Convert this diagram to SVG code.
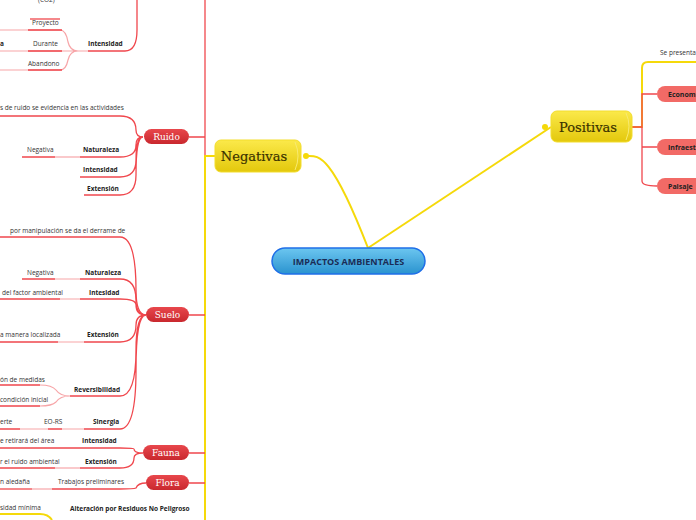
<svg xmlns="http://www.w3.org/2000/svg" width="696" height="520" viewBox="0 0 696 520">
<defs>
<linearGradient id="yg" x1="0" y1="0" x2="0" y2="1"><stop offset="0" stop-color="#fbe94a"/><stop offset="1" stop-color="#e3c80c"/></linearGradient>
<linearGradient id="bg" x1="0" y1="0" x2="0" y2="1"><stop offset="0" stop-color="#6cc6f0"/><stop offset="1" stop-color="#2a93cf"/></linearGradient>
<linearGradient id="rg" x1="0" y1="0" x2="0" y2="1"><stop offset="0" stop-color="#e8474c"/><stop offset="1" stop-color="#c9282e"/></linearGradient>
</defs>
<style>
.r{fill:none;stroke:#f0474d;stroke-width:1.3}
.rl{fill:none;stroke:#f7a5a8;stroke-width:1.2}
.y{fill:none;stroke:#f5d90a;stroke-width:2}
.t{font-family:"Open Sans","Liberation Sans",sans-serif;font-size:6.5px;fill:#333}
.b{font-family:"Open Sans","Liberation Sans",sans-serif;font-size:6.5px;font-weight:bold;fill:#222}
.p{font-family:"DejaVu Serif","Liberation Serif",serif;font-size:9px;fill:#fff;text-anchor:middle}
.big{font-family:"DejaVu Serif",serif;font-size:13px;fill:#3a3200;text-anchor:middle;stroke:#3a3200;stroke-width:0.2}
.pr{font-family:"Open Sans","Liberation Sans",sans-serif;font-size:7px;font-weight:bold;fill:#222}
</style>
<g id="connectors">
<path class="y" d="M306,156 C318,156 330,150 368,248"/>
<path class="y" d="M368,248 L551,127"/>
<path class="r" d="M205,0 V490"/>
<path class="y" d="M215,156 H205 V520"/>
<path class="r" d="M189,137 H205 M189,315 H205 M189,453 H205 M189,483 H205"/>
<path class="y" d="M632,127 H642 V68 Q642,62 648,62 H696"/>
<path class="r" d="M632,127 H642 M642,127 V94 Q642,94 657,94 M642,127 V181 Q642,186 657,186 M642,147 H657"/>
<path class="r" d="M88,51 H125 Q137,51 137,30 V0"/>
<path class="r" d="M60,19 H30"/>
<path class="rl" d="M88,51 H78 Q70,51 68,42 Q66,30 60,30 H0 M78,51 H0 M78,51 Q70,51 68,60 Q66,70 60,70 H0"/>
<path class="r" d="M28,30 H62 M28,51 H62 M28,70 H62"/>
<path class="r" d="M143,137 Q136,137 136,130 Q136,116 120,116 H0"/>
<path class="r" d="M143,137 Q136,137 136,145 Q136,157 120,157 H80 M143,137 Q136,137 136,160 Q136,177 120,177 H80 M143,137 Q136,137 136,175 Q136,195 120,195 H84"/>
<path class="rl" d="M80,157 H55"/><path class="r" d="M55,157 H22"/>
<path class="r" d="M146,315 Q136,315 136,290 Q136,237 120,237 H0"/>
<path class="r" d="M146,315 Q136,315 136,300 Q136,279 120,279 H80 M146,315 Q136,315 136,305 Q136,299 120,299 H80 M146,315 Q136,315 136,325 Q136,342 120,342 H84 M146,315 Q136,315 136,350 Q136,396 120,396 H70 M146,315 Q136,315 136,370 Q136,429 120,429 H84"/>
<path class="rl" d="M80,279 H55 M80,299 H60 M84,342 H58 M70,396 Q60,396 56,390 Q52,385 40,385 M70,396 Q60,396 56,402 Q52,406 40,406 M84,429 H62 M48,429 H20"/>
<path class="r" d="M55,279 H22 M60,299 H0 M58,342 H0 M40,385 H0 M40,406 H0 M62,429 H48 M20,429 H0"/>
<path class="r" d="M143,453 Q134,453 134,449 Q134,448 120,448 H0 M143,453 Q134,453 134,458 Q134,468 120,468 H80"/>
<path class="rl" d="M80,468 H55"/><path class="r" d="M55,468 H0"/>
<path class="r" d="M146,483 Q138,483 136,488 Q134,489 120,489 H52"/>
<path class="rl" d="M52,489 H32"/><path class="r" d="M32,489 H0"/>
<path class="y" d="M0,514 H40 Q48,514 52,520"/>
</g>
<g id="n-central"><rect x="272" y="248" width="153" height="26" rx="13" fill="url(#bg)" stroke="#1f6fe8" stroke-width="1.5"/><text x="348.5" y="265" text-anchor="middle" font-family="Open Sans,Liberation Sans,sans-serif" font-size="9px" font-weight="bold" fill="#1a2c55">IMPACTOS AMBIENTALES</text></g>
<g id="n-negativas"><rect x="215" y="140" width="86" height="32" rx="6" fill="url(#yg)" stroke="#f3dd2c"/><path d="M295,142 Q301,156 295,170" fill="none" stroke="#f8ea70"/><text class="big" x="254" y="161">Negativas</text><circle cx="306" cy="156" r="3" fill="#f5d90a"/></g>
<g id="n-positivas"><rect x="551" y="111" width="81" height="31" rx="6" fill="url(#yg)" stroke="#f3dd2c"/><path d="M626,113 Q632,126 626,140" fill="none" stroke="#f8ea70"/><text class="big" x="588" y="132">Positivas</text><circle cx="545" cy="127" r="3" fill="#f5d90a"/></g>
<g id="n-sepresenta"><text class="t" x="660" y="55">Se presenta</text></g>
<g id="n-econ"><rect x="657" y="86" width="50" height="16" rx="8" fill="#f26a66"/><text class="pr" x="668" y="97">Economía</text></g>
<g id="n-infra"><rect x="657" y="139" width="50" height="16" rx="8" fill="#f26a66"/><text class="pr" x="668" y="150">Infraestructura</text></g>
<g id="n-paisaje"><rect x="657" y="178" width="50" height="16" rx="8" fill="#f26a66"/><text class="pr" x="668" y="189">Paisaje</text></g>
<g id="n-ruido"><rect x="144" y="129" width="45" height="15" rx="7.5" fill="url(#rg)"/><text class="p" x="166.5" y="140">Ruido</text></g>
<g id="n-suelo"><rect x="146" y="307" width="43" height="15" rx="7.5" fill="url(#rg)"/><text class="p" x="167.5" y="318">Suelo</text></g>
<g id="n-fauna"><rect x="143" y="445" width="46" height="15" rx="7.5" fill="url(#rg)"/><text class="p" x="166" y="456">Fauna</text></g>
<g id="n-flora"><rect x="146" y="475" width="43" height="15" rx="7.5" fill="url(#rg)"/><text class="p" x="167.5" y="486">Flora</text></g>
<g id="texts">
<text class="t" x="38" y="2">(CO2)</text>
<text class="t" x="32" y="25">Proyecto</text>
<text class="b" x="0" y="46">a</text><text class="t" x="33" y="46">Durante</text><text class="b" x="88" y="46">Intensidad</text>
<text class="t" x="28" y="66">Abandono</text>
<text class="t" x="0" y="110">s de ruido se evidencia en las  actividades</text>
<text class="t" x="27" y="152">Negativa</text><text class="b" x="83" y="152">Naturaleza</text>
<text class="b" x="83" y="172">Intensidad</text>
<text class="b" x="87" y="191">Extensión</text>
<text class="t" x="10" y="233">por manipulación se da el derrame de</text>
<text class="t" x="27" y="275">Negativa</text><text class="b" x="85" y="275">Naturaleza</text>
<text class="t" x="2" y="295">del factor ambiental</text><text class="b" x="89" y="295">Intesidad</text>
<text class="t" x="0" y="337">a manera localizada</text><text class="b" x="87" y="337">Extensión</text>
<text class="t" x="0" y="382">ón de medidas</text><text class="b" x="74" y="392">Reversibilidad</text>
<text class="t" x="0" y="402">condición inicial</text>
<text class="t" x="0" y="424">erte</text><text class="t" x="44" y="424">EO-RS</text><text class="b" x="93" y="424">Sinergia</text>
<text class="t" x="0" y="443">e retirará del área</text><text class="b" x="82" y="443">Intensidad</text>
<text class="t" x="0" y="464">r el ruido ambiental</text><text class="b" x="85" y="464">Extensión</text>
<text class="t" x="0" y="484">n aledaña</text><text class="t" x="58" y="484">Trabajos preliminares</text>
<text class="t" x="0" y="510">sidad mínima</text><text class="b" x="70" y="511">Alteración por Residuos No Peligroso</text>
</g>
</svg>
